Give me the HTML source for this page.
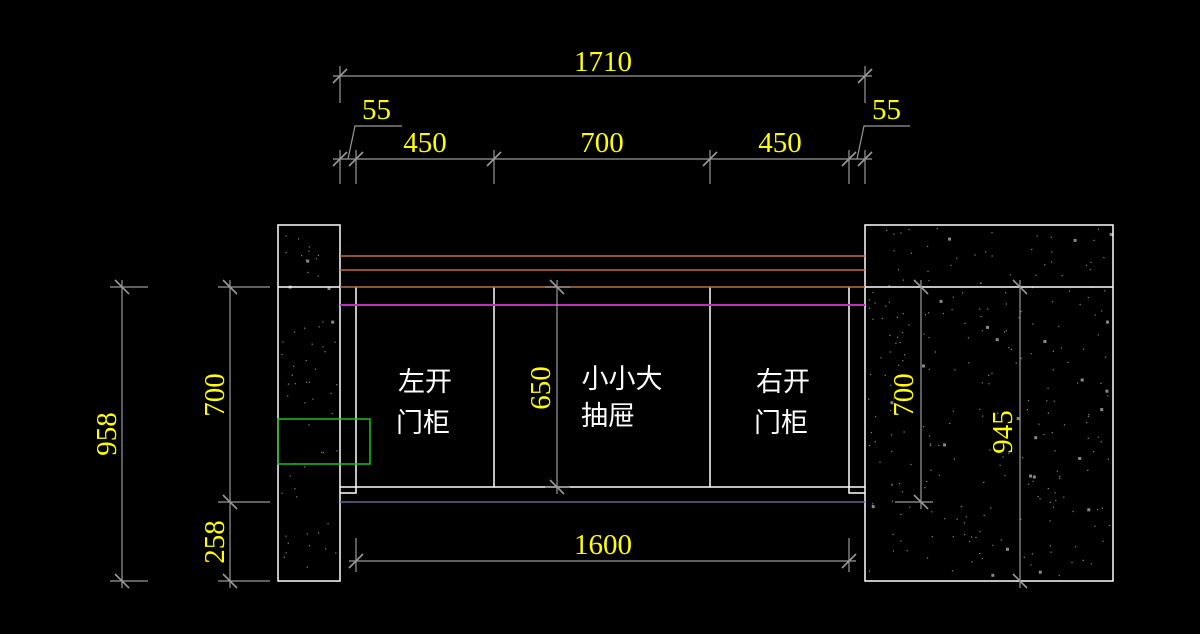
<!DOCTYPE html>
<html><head><meta charset="utf-8"><style>
html,body{margin:0;padding:0;background:#000;width:1200px;height:634px;overflow:hidden}
svg{display:block}
.y{fill:#ffff00;font-family:"Liberation Serif",serif;font-size:29px}
.w{fill:#fff;font-family:"Liberation Sans","Noto Sans CJK SC",sans-serif;font-size:27px}
</style></head><body>
<svg id="s" width="1200" height="634" viewBox="0 0 1200 634" xmlns="http://www.w3.org/2000/svg">
<g id="dots" fill="#888"></g>
<g stroke="#fff" stroke-width="1.5" fill="none">
<rect x="278" y="225" width="62" height="356"/>
<line x1="278" y1="287" x2="340" y2="287"/>
<rect x="865" y="225" width="248" height="356"/>
<line x1="865" y1="287" x2="1113" y2="287"/>
<line x1="356" y1="287" x2="356" y2="487"/>
<line x1="494" y1="287" x2="494" y2="487"/>
<line x1="710" y1="287" x2="710" y2="487"/>
<line x1="849" y1="287" x2="849" y2="487"/>
<line x1="340" y1="487" x2="865" y2="487"/>
<polyline points="340,493 356,493 356,487"/>
<polyline points="865,493 849,493 849,487"/>
</g>
<g stroke="#c0703a" stroke-width="1.5">
<line x1="340" y1="256" x2="865" y2="256"/>
<line x1="340" y1="270" x2="865" y2="270"/>
<line x1="340" y1="287" x2="865" y2="287"/>
</g>
<line x1="340" y1="305" x2="865" y2="305" stroke="#c030c0" stroke-width="2"/>
<line x1="340" y1="502" x2="865" y2="502" stroke="#5a6a90" stroke-width="1.5"/>
<rect x="278" y="419" width="92" height="45" fill="none" stroke="#20c020" stroke-width="1.5"/>
<g stroke="#999" stroke-width="1.2" id="dims">
<line x1="333" y1="76" x2="872" y2="76"/>
<line x1="340" y1="66" x2="340" y2="103"/><line x1="865" y1="66" x2="865" y2="103"/>
<line x1="333" y1="159" x2="872" y2="159"/>
<line x1="340" y1="150" x2="340" y2="184"/><line x1="356" y1="150" x2="356" y2="184"/>
<line x1="494" y1="150" x2="494" y2="184"/><line x1="710" y1="150" x2="710" y2="184"/>
<line x1="849" y1="150" x2="849" y2="184"/><line x1="865" y1="150" x2="865" y2="184"/>
<polyline points="348,159 355,126 402,126" fill="none"/>
<polyline points="857,159 864,126 910,126" fill="none"/>
<line x1="349" y1="561" x2="856" y2="561"/>
<line x1="356" y1="538" x2="356" y2="572"/><line x1="849" y1="538" x2="849" y2="572"/>
<line x1="122" y1="280" x2="122" y2="588"/>
<line x1="110" y1="287" x2="148" y2="287"/><line x1="110" y1="581" x2="148" y2="581"/>
<line x1="230" y1="280" x2="230" y2="588"/>
<line x1="218" y1="287" x2="270" y2="287"/><line x1="218" y1="502" x2="270" y2="502"/><line x1="218" y1="581" x2="270" y2="581"/>
<line x1="557" y1="280" x2="557" y2="494"/>
<line x1="545" y1="287" x2="570" y2="287"/><line x1="545" y1="487" x2="570" y2="487"/>
<line x1="921" y1="280" x2="921" y2="509"/><line x1="895" y1="502" x2="933" y2="502"/>
<line x1="1020" y1="280" x2="1020" y2="588"/>
</g>
<g class="y">
<text x="603" y="71" text-anchor="middle">1710</text>
<text x="362" y="119">55</text>
<text x="872" y="119">55</text>
<text x="425" y="152" text-anchor="middle">450</text>
<text x="602" y="152" text-anchor="middle">700</text>
<text x="780" y="152" text-anchor="middle">450</text>
<text x="603" y="554" text-anchor="middle">1600</text>
<text transform="translate(116,434) rotate(-90)" text-anchor="middle">958</text>
<text transform="translate(224,395) rotate(-90)" text-anchor="middle">700</text>
<text transform="translate(224,542) rotate(-90)" text-anchor="middle">258</text>
<text transform="translate(550,388) rotate(-90)" text-anchor="middle">650</text>
<text transform="translate(913,395) rotate(-90)" text-anchor="middle">700</text>
<text transform="translate(1012,432) rotate(-90)" text-anchor="middle">945</text>
</g>
<g class="w">
<text x="425" y="391" text-anchor="middle">左开</text>
<text x="423" y="432" text-anchor="middle">门柜</text>
<text x="622" y="388" text-anchor="middle">小小大</text>
<text x="608" y="425" text-anchor="middle">抽屉</text>
<text x="783" y="391" text-anchor="middle">右开</text>
<text x="781" y="432" text-anchor="middle">门柜</text>
</g>
</svg>
<script>
(function(){
var ns="http://www.w3.org/2000/svg",g=document.getElementById("dots"),d=document.getElementById("dims");
var seed=7;function r(){seed=(seed*9301+49297)%233280;return seed/233280;}
function fill(x,y,w,h,n){for(var i=0;i<n;i++){var c=document.createElementNS(ns,"rect");c.setAttribute("x",(x+3+r()*(w-6)).toFixed(1));c.setAttribute("y",(y+3+r()*(h-6)).toFixed(1));var s=r()<0.08?3:1.2;c.setAttribute("width",s);c.setAttribute("height",s);g.appendChild(c);}}
fill(278,225,62,356,60);fill(865,225,248,356,260);
var ticks=[[340,76],[865,76],[340,159],[356,159],[494,159],[710,159],[849,159],[865,159],[356,561],[849,561],[122,287],[122,581],[230,287],[230,502],[230,581],[557,287],[557,487],[921,287],[921,502],[1020,287],[1020,581]];
ticks.forEach(function(t){var l=document.createElementNS(ns,"line");l.setAttribute("x1",t[0]-7);l.setAttribute("y1",t[1]+7);l.setAttribute("x2",t[0]+7);l.setAttribute("y2",t[1]-7);if(t[0]==122||t[0]==230||t[0]==557||t[0]==921||t[0]==1020){l.setAttribute("x1",t[0]-7);l.setAttribute("y1",t[1]-7);l.setAttribute("x2",t[0]+7);l.setAttribute("y2",t[1]+7);}l.setAttribute("stroke-width","1.6");d.appendChild(l);});
})();
</script>
</body></html>
